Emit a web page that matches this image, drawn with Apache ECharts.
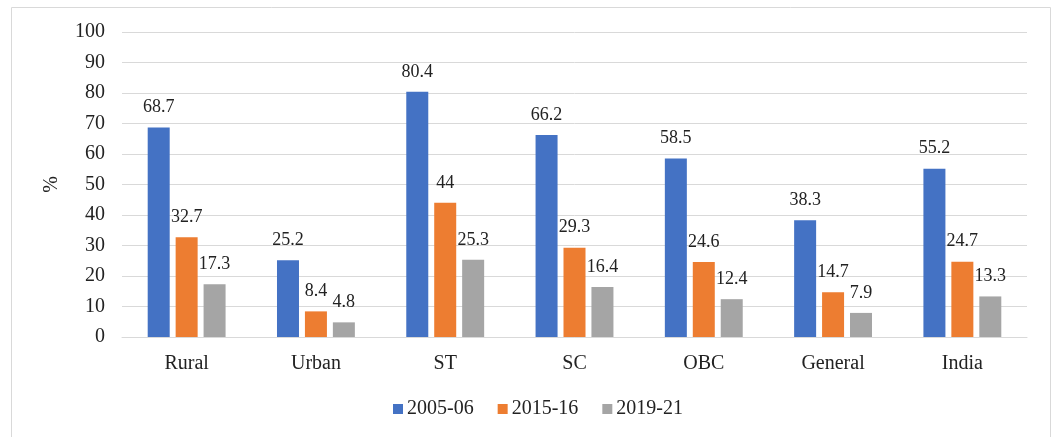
<!DOCTYPE html>
<html>
<head>
<meta charset="utf-8">
<script src="https://cdn.jsdelivr.net/npm/echarts@6/dist/echarts.min.js"></script>
<style>
  html, body { margin: 0; padding: 0; background: #fff; }
  #chart { width: 1055px; height: 437px; }
</style>
</head>
<body>
<div id="chart"></div>
<script>
const categories = ['Rural', 'Urban', 'ST', 'SC', 'OBC', 'General', 'India']
const seriesNames = ['2005-06', '2015-16', '2019-21']
const values2005 = [68.7, 25.2, 80.4, 66.2, 58.5, 38.3, 55.2]
const values2015 = [32.7, 8.4, 44, 29.3, 24.6, 14.7, 24.7]
const values2019 = [17.3, 4.8, 25.3, 16.4, 12.4, 7.9, 13.3]
const yTicks = { min: 0, max: 100, interval: 10 }

const font = '"Liberation Serif", "DejaVu Serif", serif'
const colors = ['#4472C4', '#ED7D31', '#A5A5A5']

const chart = echarts.init(document.getElementById('chart'))
const makeSeries = (name, data) => ({
  name: name,
  type: 'bar',
  data: data,
  barWidth: 22,
  barGap: '27%',
  label: {
    show: true,
    position: 'top',
    distance: 11,
    color: '#222',
    fontFamily: font,
    fontSize: 18
  },
  animation: false
})

chart.setOption({
  color: colors,
  graphic: [{
    type: 'rect',
    shape: { x: 11.5, y: 7.5, width: 1039, height: 440 },
    style: { fill: 'none', stroke: '#d9d9d9', lineWidth: 1 },
    silent: true
  }],
  grid: { left: 122, right: 28, top: 32, bottom: 100 },
  legend: {
    data: seriesNames,
    bottom: 13,
    left: 388,
    itemWidth: 10,
    itemHeight: 10,
    itemGap: 24,
    icon: 'rect',
    textStyle: { fontFamily: font, fontSize: 20, color: '#222', padding: [0, 0, 0, -1] }
  },
  xAxis: {
    type: 'category',
    data: categories,
    axisLine: { lineStyle: { color: '#d9d9d9' } },
    axisTick: { show: false },
    axisLabel: { fontFamily: font, fontSize: 20, color: '#222', margin: 17 }
  },
  yAxis: {
    type: 'value',
    min: yTicks.min,
    max: yTicks.max,
    interval: yTicks.interval,
    name: '%',
    nameLocation: 'middle',
    nameGap: 60,
    nameRotate: 90,
    nameTextStyle: { fontFamily: font, fontSize: 20, color: '#222' },
    axisLine: { show: false },
    axisTick: { show: false },
    axisLabel: { fontFamily: font, fontSize: 20, color: '#222', margin: 17 },
    splitLine: { lineStyle: { color: '#d9d9d9' } }
  },
  series: [
    makeSeries(seriesNames[0], values2005),
    makeSeries(seriesNames[1], values2015),
    makeSeries(seriesNames[2], values2019)
  ]
})
</script>
</body>
</html>
